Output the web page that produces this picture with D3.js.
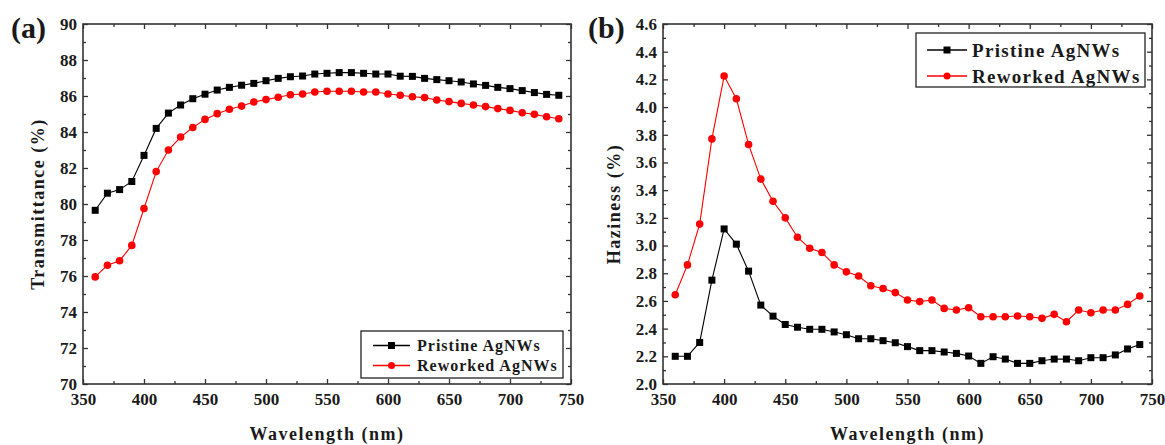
<!DOCTYPE html>
<html><head><meta charset="utf-8">
<script src="https://cdn.jsdelivr.net/npm/d3@7"></script>
<style>
html,body{margin:0;padding:0;background:#fff;}
svg text{font-family:"Liberation Serif","Times New Roman",serif;font-weight:bold;fill:#1a1a1a;}
</style></head>
<body>
<svg id="chart" width="1165" height="445"></svg>
<script>
const wavelength = [360,370,380,390,400,410,420,430,440,450,460,470,480,490,500,510,520,530,540,550,560,570,580,590,600,610,620,630,640,650,660,670,680,690,700,710,720,730,740];
const transPristine = [79.65,80.6,80.8,81.25,82.7,84.2,85.05,85.5,85.85,86.1,86.33,86.48,86.6,86.7,86.85,86.98,87.07,87.11,87.22,87.26,87.3,87.3,87.26,87.22,87.22,87.1,87.09,86.98,86.91,86.85,86.78,86.67,86.59,86.48,86.41,86.3,86.19,86.09,86.04];
const transReworked = [75.95,76.6,76.85,77.7,79.75,81.8,83.0,83.72,84.25,84.7,85.02,85.26,85.44,85.67,85.8,85.93,86.07,86.11,86.22,86.26,86.26,86.26,86.22,86.22,86.11,86.04,85.96,85.91,85.78,85.69,85.59,85.5,85.41,85.3,85.2,85.07,84.98,84.85,84.74];
const hazePristine = [2.2,2.2,2.3,2.75,3.12,3.01,2.815,2.57,2.49,2.43,2.41,2.395,2.395,2.376,2.356,2.327,2.327,2.313,2.298,2.27,2.241,2.241,2.231,2.221,2.202,2.149,2.197,2.18,2.149,2.149,2.168,2.18,2.18,2.168,2.19,2.19,2.21,2.253,2.285];
const hazeReworked = [2.645,2.86,3.155,3.77,4.224,4.06,3.73,3.48,3.32,3.2,3.06,2.98,2.95,2.86,2.81,2.78,2.71,2.69,2.66,2.607,2.595,2.607,2.546,2.534,2.551,2.486,2.486,2.486,2.491,2.486,2.474,2.503,2.45,2.534,2.515,2.534,2.534,2.575,2.636];

const xTicks = [350,400,450,500,550,600,650,700,750];
const xMinor = [375,425,475,525,575,625,675,725];
const transTicks = [70,72,74,76,78,80,82,84,86,88,90];
const transMinor = [71,73,75,77,79,81,83,85,87,89];
const hazeTicks = [2.0,2.2,2.4,2.6,2.8,3.0,3.2,3.4,3.6,3.8,4.0,4.2,4.4,4.6];
const hazeMinor = [2.1,2.3,2.5,2.7,2.9,3.1,3.3,3.5,3.7,3.9,4.1,4.3,4.5];
const seriesNames = ["Pristine AgNWs","Reworked AgNWs"];
const seriesColors = ["#000000","#ff0000"];

const svg = d3.select("#chart");

function panel(opt){
  const {x0,x1,y0,y1,yDomain,yTicks,yMinor,yFmt,s1,s2,label,ytitle,ytitleX,labelX,legend} = opt;
  const g = svg.append("g");
  const x = d3.scaleLinear().domain([350,750]).range([x0,x1]);
  const y = d3.scaleLinear().domain(yDomain).range([y1,y0]);
  const axColor = "#333";

  const bx = g.append("g").attr("transform",`translate(0,${y1})`)
    .call(d3.axisBottom(x).tickValues(xTicks).tickSize(-5).tickPadding(9).tickFormat(d3.format("d")));
  bx.selectAll("text").style("font-size","17px");
  g.append("g").attr("transform",`translate(0,${y1})`)
    .call(d3.axisBottom(x).tickValues(xMinor).tickSize(-3).tickFormat(""));
  g.append("g").attr("transform",`translate(0,${y0})`)
    .call(d3.axisTop(x).tickValues(xTicks).tickSize(-5).tickFormat(""));
  g.append("g").attr("transform",`translate(0,${y0})`)
    .call(d3.axisTop(x).tickValues(xMinor).tickSize(-3).tickFormat(""));
  const ly = g.append("g").attr("transform",`translate(${x0},0)`)
    .call(d3.axisLeft(y).tickValues(yTicks).tickSize(-5).tickPadding(6).tickFormat(yFmt));
  ly.selectAll("text").style("font-size","17px");
  g.append("g").attr("transform",`translate(${x0},0)`)
    .call(d3.axisLeft(y).tickValues(yMinor).tickSize(-3).tickFormat(""));
  g.append("g").attr("transform",`translate(${x1},0)`)
    .call(d3.axisRight(y).tickValues(yTicks).tickSize(-5).tickFormat(""));
  g.append("g").attr("transform",`translate(${x1},0)`)
    .call(d3.axisRight(y).tickValues(yMinor).tickSize(-3).tickFormat(""));
  g.selectAll(".domain").remove();
  g.selectAll(".tick line").attr("stroke",axColor).attr("stroke-width",1.3);
  g.append("rect").attr("x",x0).attr("y",y0).attr("width",x1-x0).attr("height",y1-y0)
    .attr("fill","none").attr("stroke",axColor).attr("stroke-width",1.6);

  const line = d3.line().x((d,i)=>x(wavelength[i])).y(d=>y(d));
  g.append("path").datum(s1).attr("d",line).attr("fill","none").attr("stroke",seriesColors[0]).attr("stroke-width",1.1);
  g.selectAll(".sq").data(s1).enter().append("rect")
    .attr("x",(d,i)=>x(wavelength[i])-3.5).attr("y",d=>y(d)-3.5).attr("width",7).attr("height",7)
    .attr("fill",seriesColors[0]);
  g.append("path").datum(s2).attr("d",line).attr("fill","none").attr("stroke",seriesColors[1]).attr("stroke-width",1.1);
  g.selectAll(".ci").data(s2).enter().append("circle")
    .attr("cx",(d,i)=>x(wavelength[i])).attr("cy",d=>y(d)).attr("r",3.8)
    .attr("fill",seriesColors[1]);

  g.append("text").attr("x",(x0+x1)/2).attr("y",440).attr("text-anchor","middle")
    .style("font-size","18px").style("letter-spacing","1.5px").text("Wavelength (nm)");
  g.append("text").attr("transform",`translate(${ytitleX},${(y0+y1)/2}) rotate(-90)`)
    .attr("text-anchor","middle").style("font-size","18px").style("letter-spacing","1.5px").text(ytitle);
  g.append("text").attr("x",labelX).attr("y",38).style("font-size","30px").text(label);

  const L = legend;
  g.append("rect").attr("x",L.x).attr("y",L.y).attr("width",L.w).attr("height",L.h)
    .attr("fill","#fff").attr("stroke","#222").attr("stroke-width",1.3);
  seriesNames.forEach((name,k)=>{
    const ry = L.rows[k];
    g.append("line").attr("x1",L.lx0).attr("x2",L.lx1).attr("y1",ry).attr("y2",ry)
      .attr("stroke",seriesColors[k]).attr("stroke-width",1.3);
    const mx = (L.lx0+L.lx1)/2;
    if(k===0){
      g.append("rect").attr("x",mx-3.5).attr("y",ry-3.5).attr("width",7).attr("height",7).attr("fill",seriesColors[0]);
    } else {
      g.append("circle").attr("cx",mx).attr("cy",ry).attr("r",3.5).attr("fill",seriesColors[1]);
    }
    g.append("text").attr("x",L.tx).attr("y",ry).attr("dy","0.35em")
      .style("font-size",L.fs+"px").style("letter-spacing",L.ls+"px").text(name);
  });
}

panel({x0:83,x1:571,y0:24,y1:384,yDomain:[70,90],yTicks:transTicks,yMinor:transMinor,yFmt:d3.format("d"),
  s1:transPristine,s2:transReworked,label:"(a)",ytitle:"Transmittance (%)",ytitleX:44,labelX:11,
  legend:{x:361,y:331,w:202,h:47,lx0:373,lx1:410,tx:417,rows:[345.5,365.5],fs:16,ls:1}});
panel({x0:663,x1:1152,y0:24,y1:384,yDomain:[2.0,4.6],yTicks:hazeTicks,yMinor:hazeMinor,yFmt:d3.format(".1f"),
  s1:hazePristine,s2:hazeReworked,label:"(b)",ytitle:"Haziness (%)",ytitleX:620,labelX:588,
  legend:{x:916,y:33,w:229,h:54,lx0:927,lx1:967,tx:972,rows:[50,76],fs:19,ls:1.3}});
</script>
</body></html>
